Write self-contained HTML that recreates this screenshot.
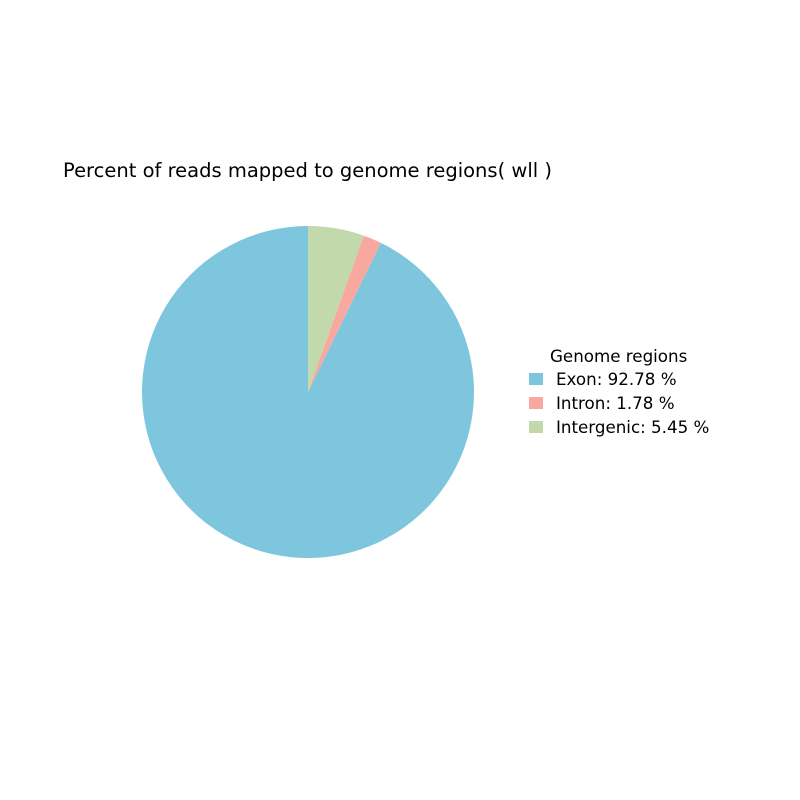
<!DOCTYPE html>
<html><head><meta charset="utf-8"><style>
body{margin:0;background:#fff}
svg{display:block;font-family:"DejaVu Sans","Liberation Sans",sans-serif}
</style></head><body>
<svg id="c" width="800" height="800">
<rect width="800" height="800" fill="#fff"/>
<text x="63" y="177" font-size="19.5" fill="#000">Percent of reads mapped to genome regions( wll )</text>
<g id="slices"></g>
<g id="legend">
<text x="550" y="362" font-size="16.7">Genome regions</text>
</g>
</svg>
<script>
const categories=["Exon","Intron","Intergenic"];
const values=[92.78,1.78,5.45];
const colors=["#7ec6de","#f8a89e","#c2d9ab"];
const cx=308,cy=392,r=166;
const total=values.reduce((a,b)=>a+b,0);
const ns="http://www.w3.org/2000/svg";
const g=document.getElementById('slices');
let ang=90;
values.forEach((v,i)=>{
  const a0=ang, a1=ang+v/total*360;
  const p=d=>[cx+r*Math.cos(d*Math.PI/180), cy-r*Math.sin(d*Math.PI/180)];
  const [x0,y0]=p(a0),[x1,y1]=p(a1);
  const large=(a1-a0)>180?1:0;
  const path=document.createElementNS(ns,'path');
  path.setAttribute('d',`M${cx},${cy} L${x0},${y0} A${r},${r} 0 ${large} 0 ${x1},${y1} Z`);
  path.setAttribute('fill',colors[i]);
  
  
  g.appendChild(path);
  ang=a1;
});
const lg=document.getElementById('legend');
categories.forEach((c,i)=>{
  const y=379+i*24;
  const rc=document.createElementNS(ns,'rect');
  rc.setAttribute('x',529);rc.setAttribute('y',y-6);rc.setAttribute('width',14);rc.setAttribute('height',12);
  rc.setAttribute('fill',colors[i]);
  
  
  lg.appendChild(rc);
  const t=document.createElementNS(ns,'text');
  t.setAttribute('x',556);t.setAttribute('y',y+6);t.setAttribute('font-size','16.7');
  t.textContent=c+': '+values[i].toFixed(2)+' %';
  
  
  lg.appendChild(t);
});
</script>
</body></html>
